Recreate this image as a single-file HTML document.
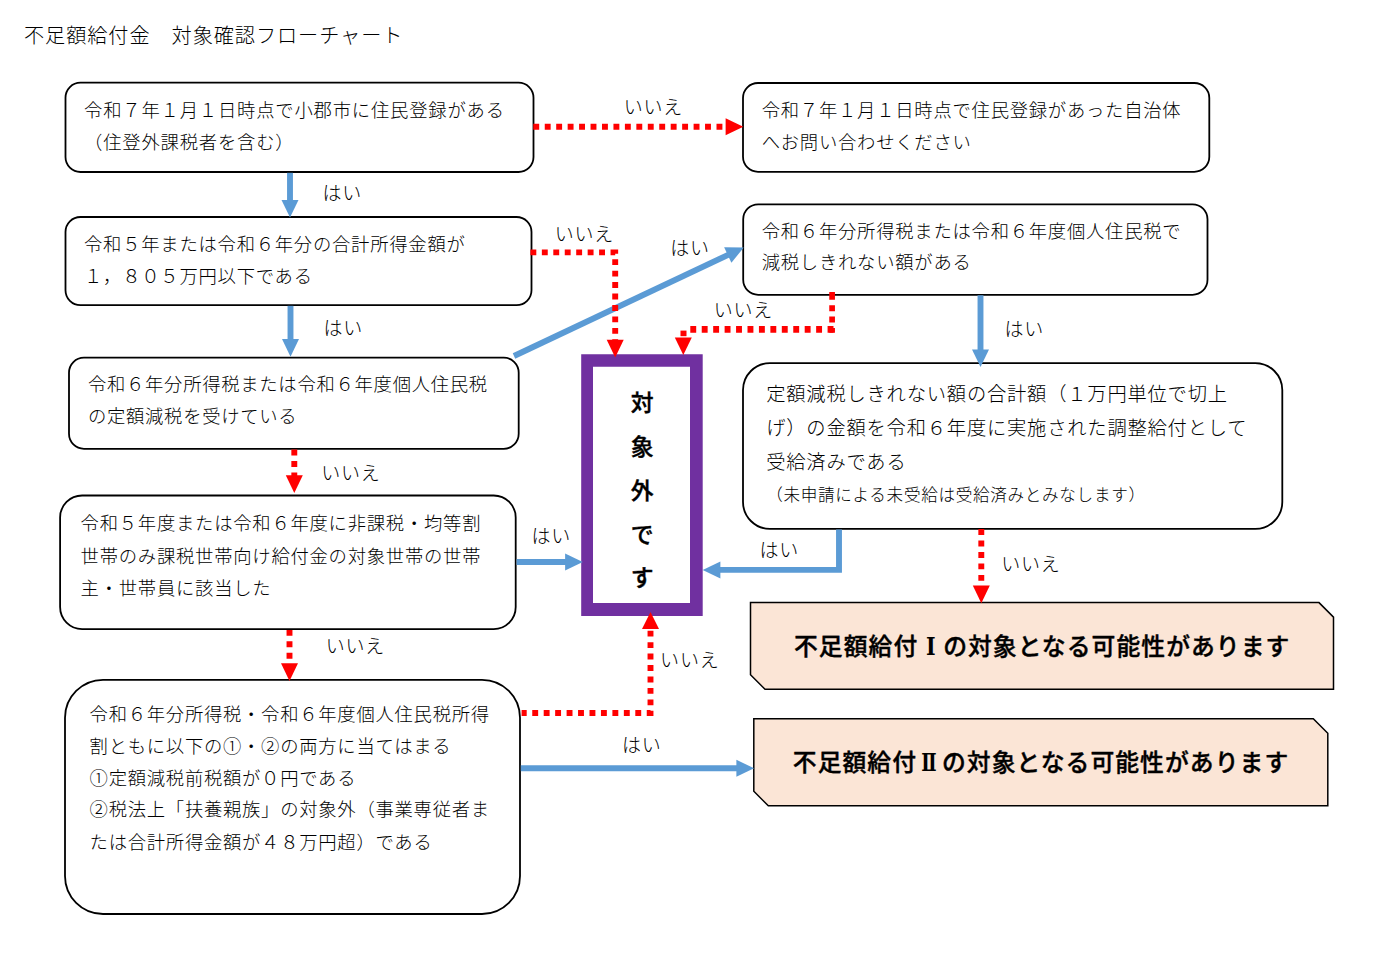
<!DOCTYPE html>
<html lang="ja">
<head>
<meta charset="utf-8">
<title>不足額給付金　対象確認フローチャート</title>
<style>
html,body{margin:0;padding:0;background:#fff}
body{width:1375px;height:959px;overflow:hidden;position:relative}
svg{position:absolute;left:0;top:0;display:block}
svg text{font-family:"Liberation Sans","Noto Sans CJK JP",sans-serif;white-space:pre}
</style>
</head>
<body>
<svg width="1375" height="959" viewBox="0 0 1375 959">
<rect x="65.5" y="82.7" width="468.0" height="89.3" rx="15" ry="15" fill="#fff" stroke="#000" stroke-width="1.8"/>
<rect x="65.5" y="217" width="466.0" height="88.2" rx="15" ry="15" fill="#fff" stroke="#000" stroke-width="1.8"/>
<rect x="69" y="357.7" width="449.7" height="91.1" rx="15" ry="15" fill="#fff" stroke="#000" stroke-width="1.8"/>
<rect x="60.1" y="495.5" width="455.6" height="133.6" rx="22" ry="22" fill="#fff" stroke="#000" stroke-width="1.8"/>
<rect x="65" y="679.8" width="455" height="234.2" rx="38" ry="38" fill="#fff" stroke="#000" stroke-width="1.8"/>
<rect x="743" y="83" width="466.3" height="88.8" rx="15" ry="15" fill="#fff" stroke="#000" stroke-width="1.8"/>
<rect x="743.2" y="204.3" width="464.3" height="90.5" rx="15" ry="15" fill="#fff" stroke="#000" stroke-width="1.8"/>
<rect x="743" y="363.1" width="539.3" height="165.8" rx="27" ry="27" fill="#fff" stroke="#000" stroke-width="1.8"/>
<polygon points="750.5,602.6 1319.0,602.6 1333.5,617.1 1333.5,689.3 765.0,689.3 750.5,674.8" fill="#FBE5D6" stroke="#000" stroke-width="1.5" stroke-linejoin="miter"/>
<polygon points="753.8,718.8 1313.3,718.8 1327.8,733.3 1327.8,805.8 768.3,805.8 753.8,791.3" fill="#FBE5D6" stroke="#000" stroke-width="1.5" stroke-linejoin="miter"/>
<path d="M581.2,354.2 H702.7 V616 H581.2 Z M593,366.7 V603 H690 V366.7 Z" fill="#7030A0" fill-rule="evenodd"/>
<path d="M290,172.8 L290,202" fill="none" stroke="#5B9BD5" stroke-width="5.9" stroke-linejoin="miter"/>
<polygon points="290.00,217.60 281.50,199.90 298.50,199.90" fill="#5B9BD5"/>
<path d="M290.5,305.8 L290.5,341" fill="none" stroke="#5B9BD5" stroke-width="5.9" stroke-linejoin="miter"/>
<polygon points="290.50,356.80 282.00,339.10 299.00,339.10" fill="#5B9BD5"/>
<path d="M514,356 L730.84,253.58" fill="none" stroke="#5B9BD5" stroke-width="5.9" stroke-linejoin="miter"/>
<polygon points="743.77,247.47 731.40,262.72 724.14,247.35" fill="#5B9BD5"/>
<path d="M516.6,562 L567,562" fill="none" stroke="#5B9BD5" stroke-width="5.9" stroke-linejoin="miter"/>
<polygon points="582.80,562.00 565.10,570.50 565.10,553.50" fill="#5B9BD5"/>
<path d="M980.5,295.3 L980.5,351" fill="none" stroke="#5B9BD5" stroke-width="5.9" stroke-linejoin="miter"/>
<polygon points="980.50,367.10 972.00,349.40 989.00,349.40" fill="#5B9BD5"/>
<path d="M839,529.5 L839,569.9 L718,569.9" fill="none" stroke="#5B9BD5" stroke-width="5.9" stroke-linejoin="miter"/>
<polygon points="702.70,569.90 720.40,561.40 720.40,578.40" fill="#5B9BD5"/>
<path d="M520.8,768.3 L738,768.3" fill="none" stroke="#5B9BD5" stroke-width="5.9" stroke-linejoin="miter"/>
<polygon points="754.10,768.30 736.40,776.80 736.40,759.80" fill="#5B9BD5"/>
<path d="M533.3,126.8 L727,126.8" fill="none" stroke="#FF0000" stroke-width="5.9" stroke-dasharray="5.9 5.55" stroke-dashoffset="0" stroke-linejoin="miter"/>
<polygon points="743.30,126.80 725.60,135.30 725.60,118.30" fill="#FF0000"/>
<path d="M530.4,252.4 L615.2,252.4 L615.2,342" fill="none" stroke="#FF0000" stroke-width="5.9" stroke-dasharray="5.9 5.55" stroke-dashoffset="0" stroke-linejoin="miter"/>
<polygon points="615.20,357.40 606.70,339.70 623.70,339.70" fill="#FF0000"/>
<path d="M832.1,292 V332.7" fill="none" stroke="#FF0000" stroke-width="5.7" stroke-dasharray="7.8 5.4 6 5.4 6 5.4 6.5 0"/>
<path d="M690.3,329.4 H834.9" fill="none" stroke="#FF0000" stroke-width="6.7" stroke-dasharray="5.9 5.54"/>
<rect x="680.5" y="330.6" width="6" height="5.6" fill="#FF0000"/>
<polygon points="683.30,355.10 674.80,337.60 691.80,337.60" fill="#FF0000"/>
<path d="M294.3,449.6 L294.3,476" fill="none" stroke="#FF0000" stroke-width="5.9" stroke-dasharray="5.9 5.55" stroke-dashoffset="0" stroke-linejoin="miter"/>
<polygon points="294.30,492.90 285.80,475.20 302.80,475.20" fill="#FF0000"/>
<path d="M289.5,629.9 L289.5,665" fill="none" stroke="#FF0000" stroke-width="5.9" stroke-dasharray="5.9 5.55" stroke-dashoffset="0" stroke-linejoin="miter"/>
<polygon points="289.50,680.90 281.00,663.20 298.00,663.20" fill="#FF0000"/>
<path d="M521.6,713 L650.5,713 L650.5,628" fill="none" stroke="#FF0000" stroke-width="5.9" stroke-dasharray="5.9 5.55" stroke-dashoffset="0.8" stroke-linejoin="miter"/>
<polygon points="650.50,612.10 659.00,629.10 642.00,629.10" fill="#FF0000"/>
<path d="M981.3,529.1 L981.3,587" fill="none" stroke="#FF0000" stroke-width="5.9" stroke-dasharray="5.9 5.55" stroke-dashoffset="0" stroke-linejoin="miter"/>
<polygon points="981.30,603.30 972.80,585.60 989.80,585.60" fill="#FF0000"/>
<text x="24.0" y="43.06" font-size="20.17" letter-spacing="0.93" font-weight="300" fill="#000" text-anchor="start">不足額給付金　対象確認フローチャート</text>
<text x="84.0" y="116.97" font-size="18.34" letter-spacing="0.8" font-weight="300" fill="#000" text-anchor="start">令和７年１月１日時点で小郡市に住民登録がある</text>
<text x="84.0" y="148.72" font-size="18.34" letter-spacing="0.8" font-weight="300" fill="#000" text-anchor="start">（住登外課税者を含む）</text>
<text x="84.0" y="250.72" font-size="18.34" letter-spacing="0.75" font-weight="300" fill="#000" text-anchor="start">令和５年または令和６年分の合計所得金額が</text>
<text x="84.0" y="283.22" font-size="18.34" letter-spacing="0.75" font-weight="300" fill="#000" text-anchor="start">１，８０５万円以下である</text>
<text x="87.9" y="391.47" font-size="18.34" letter-spacing="0.72" font-weight="300" fill="#000" text-anchor="start">令和６年分所得税または令和６年度個人住民税</text>
<text x="87.9" y="423.27" font-size="18.34" letter-spacing="0.72" font-weight="300" fill="#000" text-anchor="start">の定額減税を受けている</text>
<text x="80.6" y="530.22" font-size="18.34" letter-spacing="0.75" font-weight="300" fill="#000" text-anchor="start">令和５年度または令和６年度に非課税・均等割</text>
<text x="80.6" y="562.97" font-size="18.34" letter-spacing="0.75" font-weight="300" fill="#000" text-anchor="start">世帯のみ課税世帯向け給付金の対象世帯の世帯</text>
<text x="80.6" y="594.97" font-size="18.34" letter-spacing="0.75" font-weight="300" fill="#000" text-anchor="start">主・世帯員に該当した</text>
<text x="89.6" y="720.72" font-size="18.34" letter-spacing="0.73" font-weight="300" fill="#000" text-anchor="start">令和６年分所得税・令和６年度個人住民税所得</text>
<text x="89.6" y="752.72" font-size="18.34" letter-spacing="0.73" font-weight="300" fill="#000" text-anchor="start">割ともに以下の①・②の両方に当てはまる</text>
<text x="89.6" y="784.97" font-size="18.34" letter-spacing="0.73" font-weight="300" fill="#000" text-anchor="start">①定額減税前税額が０円である</text>
<text x="89.6" y="815.97" font-size="18.34" letter-spacing="0.73" font-weight="300" fill="#000" text-anchor="start">②税法上「扶養親族」の対象外（事業専従者ま</text>
<text x="89.6" y="848.97" font-size="18.34" letter-spacing="0.73" font-weight="300" fill="#000" text-anchor="start">たは合計所得金額が４８万円超）である</text>
<text x="761.7" y="116.97" font-size="18.34" letter-spacing="0.75" font-weight="300" fill="#000" text-anchor="start">令和７年１月１日時点で住民登録があった自治体</text>
<text x="761.7" y="148.72" font-size="18.34" letter-spacing="0.75" font-weight="300" fill="#000" text-anchor="start">へお問い合わせください</text>
<text x="761.7" y="238.22" font-size="18.34" letter-spacing="0.75" font-weight="300" fill="#000" text-anchor="start">令和６年分所得税または令和６年度個人住民税で</text>
<text x="761.7" y="269.47" font-size="18.34" letter-spacing="0.75" font-weight="300" fill="#000" text-anchor="start">減税しきれない額がある</text>
<text x="766.2" y="401.08" font-size="19.3" letter-spacing="0.79" font-weight="300" fill="#000" text-anchor="start">定額減税しきれない額の合計額（１万円単位で切上</text>
<text x="766.2" y="434.83" font-size="19.3" letter-spacing="0.79" font-weight="300" fill="#000" text-anchor="start">げ）の金額を令和６年度に実施された調整給付として</text>
<text x="766.2" y="468.58" font-size="19.3" letter-spacing="0.79" font-weight="300" fill="#000" text-anchor="start">受給済みである</text>
<text x="766.2" y="500.91" font-size="16.6" letter-spacing="0.68" font-weight="300" fill="#000" text-anchor="start">（未申請による未受給は受給済みとみなします）</text>
<text x="653.49" y="114.12" font-size="19.01" letter-spacing="0.78" font-weight="300" fill="#000" text-anchor="middle">いいえ</text>
<text x="342.39" y="200.12" font-size="19.01" letter-spacing="0.78" font-weight="300" fill="#000" text-anchor="middle">はい</text>
<text x="584.39" y="241.12" font-size="19.01" letter-spacing="0.78" font-weight="300" fill="#000" text-anchor="middle">いいえ</text>
<text x="689.99" y="255.12" font-size="19.01" letter-spacing="0.78" font-weight="300" fill="#000" text-anchor="middle">はい</text>
<text x="743.39" y="317.12" font-size="19.01" letter-spacing="0.78" font-weight="300" fill="#000" text-anchor="middle">いいえ</text>
<text x="343.39" y="335.12" font-size="19.01" letter-spacing="0.78" font-weight="300" fill="#000" text-anchor="middle">はい</text>
<text x="1024.39" y="335.62" font-size="19.01" letter-spacing="0.78" font-weight="300" fill="#000" text-anchor="middle">はい</text>
<text x="350.99" y="479.62" font-size="19.01" letter-spacing="0.78" font-weight="300" fill="#000" text-anchor="middle">いいえ</text>
<text x="551.39" y="543.42" font-size="19.01" letter-spacing="0.78" font-weight="300" fill="#000" text-anchor="middle">はい</text>
<text x="779.19" y="557.22" font-size="19.01" letter-spacing="0.78" font-weight="300" fill="#000" text-anchor="middle">はい</text>
<text x="1030.89" y="571.12" font-size="19.01" letter-spacing="0.78" font-weight="300" fill="#000" text-anchor="middle">いいえ</text>
<text x="355.39" y="653.42" font-size="19.01" letter-spacing="0.78" font-weight="300" fill="#000" text-anchor="middle">いいえ</text>
<text x="689.79" y="667.12" font-size="19.01" letter-spacing="0.78" font-weight="300" fill="#000" text-anchor="middle">いいえ</text>
<text x="641.69" y="752.12" font-size="19.01" letter-spacing="0.78" font-weight="300" fill="#000" text-anchor="middle">はい</text>
<text x="642.2" y="411.29" font-size="22.87" letter-spacing="0.0" font-weight="500" fill="#000" text-anchor="middle" stroke="#000" stroke-width="0.4" stroke-linejoin="round">対</text>
<text x="642.2" y="455.04" font-size="22.87" letter-spacing="0.0" font-weight="500" fill="#000" text-anchor="middle" stroke="#000" stroke-width="0.4" stroke-linejoin="round">象</text>
<text x="642.2" y="498.79" font-size="22.87" letter-spacing="0.0" font-weight="500" fill="#000" text-anchor="middle" stroke="#000" stroke-width="0.4" stroke-linejoin="round">外</text>
<text x="642.2" y="542.54" font-size="22.87" letter-spacing="0.0" font-weight="500" fill="#000" text-anchor="middle" stroke="#000" stroke-width="0.4" stroke-linejoin="round">で</text>
<text x="642.2" y="586.29" font-size="22.87" letter-spacing="0.0" font-weight="500" fill="#000" text-anchor="middle" stroke="#000" stroke-width="0.4" stroke-linejoin="round">す</text>
<text x="794.00" y="654.54" font-size="23.8" letter-spacing="1.06" font-weight="500" fill="#000" stroke="#000" stroke-width="0.4" stroke-linejoin="round">不足額給付<tspan x="930.73" text-anchor="middle" font-family="'DejaVu Serif','Liberation Serif',serif" font-size="24.8" font-weight="700" stroke="none" letter-spacing="0" textLength="9.6" lengthAdjust="spacingAndGlyphs">Ⅰ</tspan><tspan x="943.16">の対象となる可能性があります</tspan></text>
<text x="792.80" y="770.64" font-size="23.8" letter-spacing="1.06" font-weight="500" fill="#000" stroke="#000" stroke-width="0.4" stroke-linejoin="round">不足額給付<tspan x="928.93" text-anchor="middle" font-family="'DejaVu Serif','Liberation Serif',serif" font-size="24.8" font-weight="700" stroke="none" letter-spacing="0" textLength="15.4" lengthAdjust="spacingAndGlyphs">Ⅱ</tspan><tspan x="941.96">の対象となる可能性があります</tspan></text>
</svg>
</body>
</html>
